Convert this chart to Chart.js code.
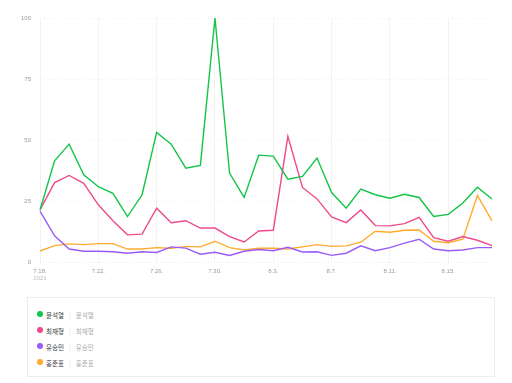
<!DOCTYPE html>
<html>
<head>
<meta charset="utf-8">
<script src="https://cdn.jsdelivr.net/npm/chart.js@4"></script>
<style>
  html, body { margin: 0; padding: 0; background: #fff; }
  #wrap { position: relative; width: 512px; height: 383px; overflow: hidden; }
  #c { position: absolute; left: 0; top: 0; }
  #legend {
    position: absolute; left: 27px; top: 297px; width: 466px; height: 78px;
    border: 1px solid #ededed;
    font-family: "Noto Sans CJK KR", "Noto Sans", sans-serif; font-size: 6.5px;
  }
  .item { position: absolute; left: 9px; height: 10px; line-height: 10px; white-space: nowrap; }
  .dot { display: inline-block; width: 6px; height: 6px; border-radius: 50%; vertical-align: middle; margin-right: 3px; position: relative; top: -1px; }
  .nm { color: #3a3a3a; font-weight: 400; vertical-align: middle; }
  .sep { color: #dcdcdc; margin: 0 5px 0 5px; vertical-align: middle; }
  .nm2 { color: #aaa; vertical-align: middle; }
</style>
</head>
<body>
<div id="wrap">
  <canvas id="c" width="512" height="290"></canvas>
  <div id="legend"></div>
</div>
<script>
const labels = ['7.18.','7.19.','7.20.','7.21.','7.22.','7.23.','7.24.','7.25.','7.26.','7.27.','7.28.','7.29.','7.30.','7.31.',
  '8.1.','8.2.','8.3.','8.4.','8.5.','8.6.','8.7.','8.8.','8.9.','8.10.','8.11.','8.12.','8.13.','8.14.','8.15.','8.16.','8.17.','8.18.'];
const yearLabel = '2021';
const yTicks = [0, 25, 50, 75, 100];

const seriesNames = ['윤석열', '최재형', '유승민', '홍준표'];
const seriesColors = ['#12c447', '#ee4a8c', '#9a5cf7', '#ffab2e'];

const yoon = [21.5,41.6,48.4,35.9,31,28.3,18.8,27.7,53.2,48.4,38.6,39.7,100,36.6,26.6,43.9,43.5,34.1,35.2,42.7,28.6,22.2,30,27.7,26.3,27.9,26.6,18.8,19.7,24.3,30.8,26];
const choi = [21.5,32.7,35.6,32.4,23.6,17.1,11.3,11.6,22.2,16.3,17.1,14.1,14.1,10.6,8.4,12.9,13.2,51.6,30.7,26,18.6,16.3,21.5,15.1,15,15.9,18.5,10.2,8.7,10.6,9.1,6.9];
const yoo = [21,10.9,5.5,4.6,4.6,4.4,3.8,4.4,4.1,6.4,5.9,3.4,4.2,2.9,4.6,5.3,4.8,6.2,4.3,4.4,2.9,3.8,6.8,4.8,6.1,7.9,9.5,5.5,4.8,5.1,6.1,6.1];
const hong = [4.7,6.9,7.6,7.3,7.7,7.7,5.5,5.5,6.1,5.8,6.6,6.4,8.7,6.1,5.1,5.8,5.8,5.5,6.4,7.3,6.6,6.8,8.3,12.8,12.4,13.2,13.3,8.7,8.1,9.5,27.4,17];

const allData = [yoon, choi, yoo, hong];

const datasets = allData.map((d, i) => ({
  label: seriesNames[i],
  data: d,
  borderColor: seriesColors[i],
  backgroundColor: seriesColors[i],
  borderWidth: 1.4,
  pointRadius: 0,
  pointHoverRadius: 0,
  tension: 0,
  fill: false,
  order: i
}));

const yearPlugin = {
  id: 'yearPlugin',
  afterDraw(chart) {
    const x = chart.scales.x.getPixelForValue(0);
    const ctx = chart.ctx;
    ctx.save();
    ctx.font = '6px "Liberation Sans", Arial, sans-serif';
    ctx.fillStyle = '#c0c0c0';
    ctx.textAlign = 'center';
    ctx.textBaseline = 'middle';
    ctx.fillText(yearLabel, x, 278.5);
    ctx.restore();
  }
};

new Chart(document.getElementById('c'), {
  type: 'line',
  data: { labels, datasets },
  plugins: [yearPlugin],
  options: {
    responsive: false,
    animation: false,
    layout: { padding: { top: 18, right: 20, left: 0, bottom: 0 } },
    plugins: { legend: { display: false }, tooltip: { enabled: false } },
    scales: {
      x: {
        offset: false,
        grid: {
          color: c => (c.index % 4 === 0 ? '#f2f2f2' : 'rgba(0,0,0,0)'),
          drawTicks: false,
          lineWidth: 1
        },
        border: { display: false },
        ticks: {
          autoSkip: false,
          maxRotation: 0,
          padding: 5,
          color: '#999',
          font: { size: 6, family: '"Liberation Sans", Arial, sans-serif' },
          callback: function (v, i) { return i % 4 === 0 ? labels[i] : ''; }
        },
        afterFit: s => { s.height = 27.5; }
      },
      y: {
        min: 0, max: 100,
        afterBuildTicks: s => { s.ticks = yTicks.map(v => ({ value: v })); },
        grid: {
          color: c => (c.tick && c.tick.value === 0 ? '#ebebeb' : '#f0f0f0'),
          drawTicks: false
        },
        border: { display: false, dash: [1, 2] },
        ticks: {
          padding: 9,
          color: '#999',
          font: { size: 6, family: '"Liberation Sans", Arial, sans-serif' }
        },
        afterFit: s => { s.width = 40; }
      }
    }
  }
});

const legend = document.getElementById('legend');
seriesNames.forEach((n, i) => {
  const it = document.createElement('div');
  it.className = 'item';
  it.style.top = (10.5 + i * 16) + 'px';
  it.innerHTML = '<span class="dot" style="background:' + seriesColors[i] + '"></span>' +
    '<span class="nm">' + n + '</span><span class="sep">|</span><span class="nm2">' + n + '</span>';
  legend.appendChild(it);
});
</script>
</body>
</html>
